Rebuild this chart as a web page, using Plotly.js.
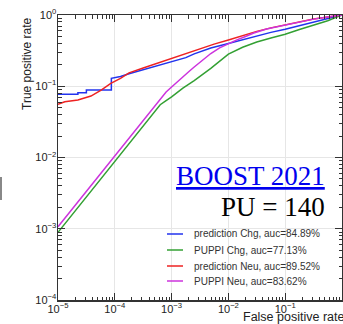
<!DOCTYPE html>
<html>
<head>
<meta charset="utf-8">
<script src="https://cdn.plot.ly/plotly-3.0.1.min.js"></script>
<style>
  html, body { margin: 0; padding: 0; background: #fff; }
  #chart { width: 343px; height: 324px; }
</style>
</head>
<body>
<div id="chart"></div>
<script>
// ---- data ----
const seriesNames = [
  'prediction Chg, auc=84.89%',
  'PUPPI Chg, auc=77.13%',
  'prediction Neu, auc=89.52%',
  'PUPPI Neu, auc=83.62%'
];
const seriesColors = ['#2233ee', '#33a033', '#ee2222', '#cc33dd'];

// prediction Chg
const predChgFpr = [1e-5, 2.24e-5, 2.24e-5, 3.16e-5, 3.16e-5, 8.7e-5, 8.7e-5, 1.26e-4, 1.78e-4, 3.16e-4, 5.6e-4, 1e-3, 1.78e-3, 2.5e-3, 4.9e-3, 1e-2, 1.78e-2, 3.16e-2, 5.6e-2, 0.1, 0.178, 0.316, 0.56, 1];
const predChgTpr = [0.077, 0.077, 0.0813, 0.0813, 0.0885, 0.0885, 0.129, 0.137, 0.150, 0.170, 0.194, 0.221, 0.252, 0.285, 0.345, 0.398, 0.450, 0.510, 0.570, 0.630, 0.705, 0.790, 0.890, 1.0];

// PUPPI Chg
const puppiChgFpr = [1e-5, 6.3e-4, 8e-4, 1e-3, 1.58e-3, 2.5e-3, 4.9e-3, 1e-2, 1.78e-2, 3.16e-2, 5.6e-2, 0.1, 0.178, 0.316, 0.56, 1];
const puppiChgTpr = [0.00089, 0.055, 0.063, 0.0708, 0.094, 0.120, 0.178, 0.282, 0.352, 0.417, 0.477, 0.537, 0.625, 0.724, 0.830, 1.0];

// prediction Neu
const predNeuFpr = [1e-5, 1.32e-5, 2.24e-5, 3.8e-5, 5.75e-5, 8.5e-5, 1.26e-4, 1.78e-4, 3.16e-4, 5.6e-4, 1e-3, 1.78e-3, 3.16e-3, 5.6e-3, 1e-2, 1.78e-2, 3.16e-2, 5.6e-2, 0.1, 0.178, 0.316, 0.56, 1];
const predNeuTpr = [0.0558, 0.0607, 0.0641, 0.0729, 0.0885, 0.110, 0.129, 0.154, 0.180, 0.210, 0.245, 0.290, 0.339, 0.390, 0.447, 0.515, 0.589, 0.660, 0.733, 0.805, 0.881, 0.940, 1.0];

// PUPPI Neu
const puppiNeuFpr = [1e-5, 6.3e-4, 8e-4, 1e-3, 1.26e-3, 1.58e-3, 2e-3, 2.5e-3, 3.5e-3, 4.9e-3, 7e-3, 1e-2, 1.41e-2, 2e-2, 2.8e-2, 4.7e-2, 0.1, 0.178, 0.316, 0.56, 1];
const puppiNeuTpr = [0.00107, 0.0665, 0.083, 0.0977, 0.116, 0.135, 0.160, 0.186, 0.235, 0.288, 0.345, 0.398, 0.447, 0.500, 0.560, 0.635, 0.724, 0.800, 0.875, 0.940, 1.0];

const tickVals = [1e-5, 1e-4, 1e-3, 1e-2, 1e-1, 1];
const tickText = ['10<sup>\u22125</sup>', '10<sup>\u22124</sup>', '10<sup>\u22123</sup>', '10<sup>\u22122</sup>', '10<sup>\u22121</sup>', '10<sup>0</sup>'];
const yTickVals = [1e-4, 1e-3, 1e-2, 1e-1, 1];
const yTickText = ['10<sup>\u22124</sup>', '10<sup>\u22123</sup>', '10<sup>\u22122</sup>', '10<sup>\u22121</sup>', '10<sup>0</sup>'];

const xs = [predChgFpr, puppiChgFpr, predNeuFpr, puppiNeuFpr];
const ys = [predChgTpr, puppiChgTpr, predNeuTpr, puppiNeuTpr];

const traces = seriesNames.map((n, i) => ({
  x: xs[i], y: ys[i], name: n, type: 'scatter', mode: 'lines',
  line: { color: seriesColors[i], width: 1.5, shape: 'linear' },
  showlegend: false, hoverinfo: 'skip'
}));

const font = 'Liberation Sans, Arial, Helvetica, sans-serif';
const axisCommon = {
  type: 'log',
  ticks: 'inside', ticklen: 7, tickwidth: 1, tickcolor: '#333',
  mirror: 'allticks', showline: true, linecolor: '#333', linewidth: 1.5,
  showgrid: true, gridcolor: '#e6e6e6', gridwidth: 1, zeroline: false,
  tickfont: { family: font, size: 11, color: '#222' },
  minor: { dtick: 'D1', ticks: 'inside', ticklen: 3.5, tickwidth: 1, tickcolor: '#333', showgrid: false }
};

// plot area: x 58..342, y 15..300
const L = 58, R = 342, T = 15, B = 300;
const px = v => (v - L) / (R - L);
const py = v => (B - v) / (B - T);

const annotations = [
  { text: 'True positive rate', xref: 'paper', yref: 'paper', x: px(27), y: py(64),
    xanchor: 'center', yanchor: 'middle', textangle: -90, showarrow: false,
    font: { family: font, size: 12, color: '#222' } },
  { text: 'False positive rate', xref: 'paper', yref: 'paper', x: px(346), y: py(317),
    xanchor: 'right', yanchor: 'middle', showarrow: false,
    font: { family: font, size: 12.5, color: '#222' } },
  { text: '<u>BOOST 2021</u>', xref: 'paper', yref: 'paper', x: px(327), y: py(176),
    xanchor: 'right', yanchor: 'middle', showarrow: false,
    font: { family: 'Liberation Serif, Times New Roman, serif', size: 27, color: '#0000ee' } },
  { text: 'PU = 140', xref: 'paper', yref: 'paper', x: px(327), y: py(207),
    xanchor: 'right', yanchor: 'middle', showarrow: false,
    font: { family: 'Liberation Serif, Times New Roman, serif', size: 27, color: '#000' } }
];
const rowY = [234, 250, 266, 281];
const shapes = [];
seriesNames.forEach((n, i) => {
  annotations.push({ text: n, xref: 'paper', yref: 'paper', x: px(192), y: py(rowY[i]),
    xanchor: 'left', yanchor: 'middle', showarrow: false,
    font: { family: font, size: 10, color: '#333' } });
  shapes.push({ type: 'line', xref: 'paper', yref: 'paper',
    x0: px(167), x1: px(183), y0: py(rowY[i]), y1: py(rowY[i]),
    line: { color: seriesColors[i], width: 1.5 } });
});
// small grey mark at the left edge of the reference image
shapes.push({ type: 'line', xref: 'paper', yref: 'paper', x0: px(1), x1: px(1), y0: py(177), y1: py(200),
  line: { color: '#888', width: 2 } });

const layout = {
  width: 343, height: 324,
  margin: { l: L, r: 343 - R, t: T, b: 324 - B },
  paper_bgcolor: '#fff', plot_bgcolor: '#fff',
  showlegend: false,
  xaxis: Object.assign({}, axisCommon, { range: [-5, 0], tickmode: 'array', tickvals: tickVals, ticktext: tickText, ticklabelstandoff: -2 }),
  yaxis: Object.assign({}, axisCommon, { range: [-4, 0], tickmode: 'array', tickvals: yTickVals, ticktext: yTickText, ticklabelstandoff: -2 }),
  annotations: annotations,
  shapes: shapes
};

Plotly.newPlot('chart', traces, layout, { staticPlot: true, displayModeBar: false });
</script>
</body>
</html>
